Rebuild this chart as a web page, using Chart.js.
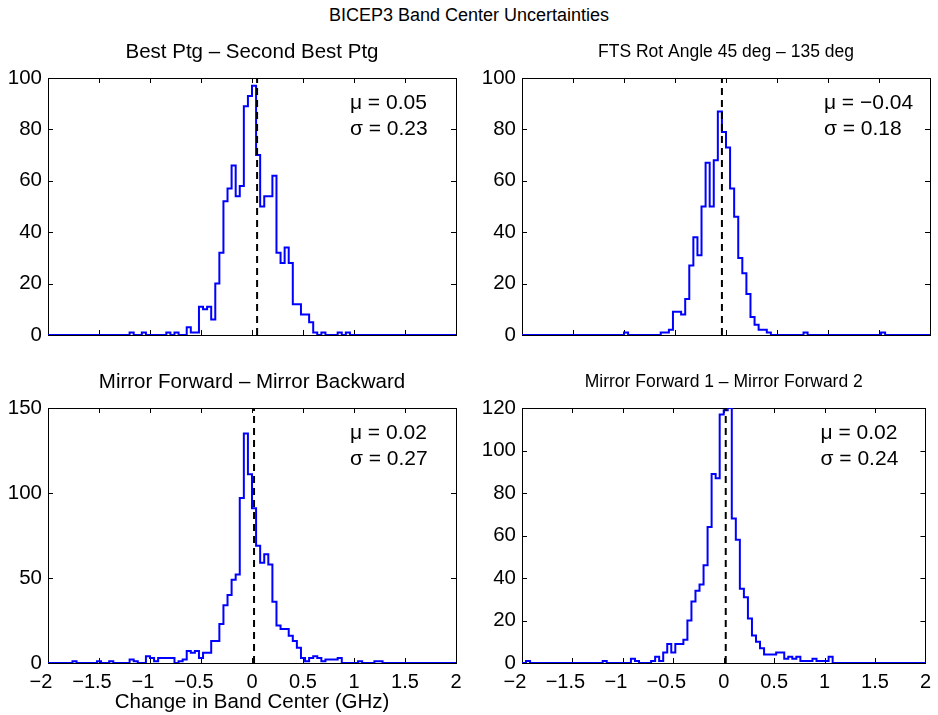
<!DOCTYPE html>
<html lang="en">
<head>
<meta charset="UTF-8">
<title>BICEP3 Band Center Uncertainties</title>
<script src="https://cdn.jsdelivr.net/npm/chart.js"></script>
<style>
  body { margin: 0; background: #fff; }
  #fig { position: relative; width: 938px; height: 715px; font-family: "Liberation Sans", Arial, sans-serif; }
  #suptitle { position: absolute; left: 0; top: 4px; width: 938px; text-align: center; font-size: 18px; line-height: 22px; color: #000; }
  canvas { position: absolute; }
</style>
</head>
<body>
<div id="fig">
  <div id="suptitle">BICEP3 Band Center Uncertainties</div>
  <canvas id="c1" width="469" height="327" style="left:0;top:30px"></canvas>
  <canvas id="c2" width="468" height="327" style="left:470px;top:30px"></canvas>
  <canvas id="c3" width="469" height="355" style="left:0;top:360px"></canvas>
  <canvas id="c4" width="468" height="355" style="left:470px;top:360px"></canvas>
</div>
<script>
// histogram: 100 bins of 0.04 GHz between -2 and 2
const binStart = -2;
const binWidth = 0.04;
const xTicks = [-2, -1.5, -1, -0.5, 0, 0.5, 1, 1.5, 2];

const countsBestPtg = [
  0,0,0,0,0,0,0,0,0,0,
  0,0,0,0,0,0,0,0,0,0,
  0,1,0,0,1,0,0,0,0,0,
  1,0,1,0,0,3,1,1,11,10,
  11,6,20,32,52,57,66,54,58,89,
  93,97,70,50,54,54,62,32,28,34,
  28,12,12,8,8,5,1,0,1,0,
  0,0,1,0,1,0,0,0,0,0,
  0,0,0,0,0,0,0,0,0,0,
  0,0,0,0,0,0,0,0,0,0
];
const countsFtsRot = [
  0,0,0,0,0,0,0,0,0,0,
  0,0,0,0,0,0,0,0,0,0,
  0,0,0,0,0,0,1,0,0,0,
  0,0,0,0,0,1,1,2,9,9,
  8,14,27,38,31,50,67,50,68,87,
  79,73,57,46,30,24,16,7,4,2,
  2,1,0,0,0,0,0,0,0,0,
  1,0,0,0,0,0,0,0,0,0,
  0,0,0,0,0,0,0,0,0,1,
  0,0,0,0,0,0,0,0,0,0
];
const countsMirrorFB = [
  0,0,0,0,0,0,0,1,0,0,
  0,0,0,1,0,0,1,0,0,0,
  0,2,1,0,0,4,3,1,3,3,
  3,3,0,1,2,7,6,7,3,6,
  6,13,13,23,34,40,49,52,97,135,
  111,91,69,59,64,58,36,22,20,20,
  16,13,9,3,1,3,4,3,1,2,
  2,2,3,0,0,0,0,1,0,0,
  0,1,1,0,0,0,0,0,0,0,
  0,0,0,0,0,0,0,0,0,0
];
const countsMirrorF12 = [
  0,0,1,0,0,0,0,0,0,0,
  0,0,0,0,0,0,0,0,0,0,
  0,1,0,0,0,0,0,0,2,1,
  0,0,0,1,3,1,5,9,5,9,
  9,11,20,29,34,37,46,64,89,87,
  117,119,120,68,58,35,31,21,13,10,
  7,4,4,4,5,5,2,3,2,3,
  1,1,1,2,1,1,1,3,0,0,
  0,0,0,0,0,0,0,0,0,0,
  0,0,0,0,0,0,0,0,0,0
];

const panelTitles = [
  'Best Ptg \u2013 Second Best Ptg',
  'FTS Rot Angle 45 deg \u2013 135 deg',
  'Mirror Forward \u2013 Mirror Backward',
  'Mirror Forward 1 \u2013 Mirror Forward 2'
];
const means = [0.05, -0.04, 0.02, 0.02];
const sigmas = [0.23, 0.18, 0.27, 0.24];
const yTicksTop = [0, 20, 40, 60, 80, 100];
const yTicksBL = [0, 50, 100, 150];
const yTicksBR = [0, 20, 40, 60, 80, 100, 120];
const xLabel = 'Change in Band Center (GHz)';

const FONT = '"Liberation Sans", Arial, Helvetica, sans-serif';
const fmt = v => (v < 0 ? '\u2212' + Math.abs(v) : String(v));
// negative x labels sit a little left of their tick, as in the original
const fmtX = v => (v < 0 ? fmt(v) + '\u2002\u2009' : fmt(v));

// box round the axes with inward ticks on all four sides, plus the mu / sigma text
const axesBox = {
  id: 'axesBox',
  beforeDatasetsDraw(chart) {
    const { ctx, chartArea: a, scales: { x, y } } = chart;
    const len = 5;
    ctx.save();
    ctx.strokeStyle = '#000';
    ctx.lineWidth = 1;
    ctx.strokeRect(Math.round(a.left) + 0.5, Math.round(a.top) + 0.5,
      Math.round(a.right - a.left), Math.round(a.bottom - a.top));
    ctx.beginPath();
    x.ticks.forEach(t => {
      const px = Math.round(x.getPixelForValue(t.value)) + 0.5;
      ctx.moveTo(px, a.bottom); ctx.lineTo(px, a.bottom - len);
      ctx.moveTo(px, a.top); ctx.lineTo(px, a.top + len);
    });
    y.ticks.forEach(t => {
      const py = Math.round(y.getPixelForValue(t.value)) + 0.5;
      ctx.moveTo(a.left, py); ctx.lineTo(a.left + len, py);
      ctx.moveTo(a.right, py); ctx.lineTo(a.right - len, py);
    });
    ctx.stroke();
    ctx.restore();
  },
  afterDraw(chart, args, opts) {
    const { ctx, scales: { x, y } } = chart;
    const top = y.max;
    ctx.save();
    ctx.fillStyle = '#000';
    ctx.font = '21px ' + FONT;
    ctx.textAlign = 'left';
    ctx.textBaseline = 'middle';
    ctx.fillText('\u03bc = ' + fmt(opts.mu), x.getPixelForValue(0.96), y.getPixelForValue(top * 0.9));
    ctx.fillText('\u03c3 = ' + fmt(opts.sigma), x.getPixelForValue(0.96), y.getPixelForValue(top * 0.8));
    ctx.restore();
  }
};

function histPoints(counts) {
  const pts = counts.map((c, i) => ({ x: binStart + i * binWidth, y: c }));
  pts.push({ x: binStart + counts.length * binWidth, y: counts[counts.length - 1] });
  return pts;
}

function makePanel(id, idx, counts, yTicks, opt) {
  const yMax = yTicks[yTicks.length - 1];
  new Chart(document.getElementById(id), {
    type: 'line',
    data: {
      datasets: [
        {
          data: [{ x: means[idx], y: 0 }, { x: means[idx], y: yMax }],
          borderColor: '#000',
          borderWidth: 2,
          borderDash: [7, 5],
          pointRadius: 0
        },
        {
          data: histPoints(counts),
          stepped: 'after',
          borderColor: '#0000ff',
          borderWidth: 2,
          pointRadius: 0
        }
      ]
    },
    options: {
      responsive: false,
      animation: false,
      layout: { padding: { left: 0, right: opt.padRight, top: 0, bottom: 0 } },
      plugins: {
        legend: { display: false },
        tooltip: { enabled: false },
        title: {
          display: true,
          fullSize: false,
          text: panelTitles[idx],
          color: '#000',
          font: { family: FONT, size: opt.titleSize, weight: 'normal' },
          padding: opt.titlePad
        },
        axesBox: { mu: means[idx], sigma: sigmas[idx] }
      },
      scales: {
        x: {
          type: 'linear',
          min: -2,
          max: 2,
          afterBuildTicks: s => { s.ticks = xTicks.map(v => ({ value: v })); },
          afterFit: s => { s.height = opt.xAxisH; },
          grid: { display: false, drawTicks: false },
          border: { display: false },
          ticks: {
            display: opt.showX,
            autoSkip: false,
            color: '#000',
            padding: 7,
            maxRotation: 0,
            font: { family: FONT, size: 20 },
            callback: v => fmtX(v)
          },
          title: {
            display: opt.xTitle,
            text: xLabel,
            color: '#000',
            font: { family: FONT, size: 20.5 },
            padding: { top: 0, bottom: 0 }
          }
        },
        y: {
          min: 0,
          max: yMax,
          afterBuildTicks: s => { s.ticks = yTicks.map(v => ({ value: v })); },
          afterFit: s => { s.width = opt.yAxisW; },
          grid: { display: false, drawTicks: false },
          border: { display: false },
          ticks: {
            autoSkip: false,
            color: '#000',
            padding: 6,
            font: { family: FONT, size: 20.5 },
            callback: v => fmt(v)
          }
        }
      }
    },
    plugins: [axesBox]
  });
}

const padLeftTitle = { top: 9.7, bottom: 13.7 };
const padRightTitle = { top: 11.5, bottom: 15.5 };

makePanel('c1', 0, countsBestPtg, yTicksTop, { padRight: 13, yAxisW: 48, xAxisH: 22, showX: false, xTitle: false, titleSize: 20.5, titlePad: padLeftTitle });
makePanel('c2', 1, countsFtsRot, yTicksTop, { padRight: 8, yAxisW: 52, xAxisH: 22, showX: false, xTitle: false, titleSize: 17.5, titlePad: padRightTitle });
makePanel('c3', 2, countsMirrorFB, yTicksBL, { padRight: 13, yAxisW: 48, xAxisH: 52, showX: true, xTitle: true, titleSize: 20.5, titlePad: padLeftTitle });
makePanel('c4', 3, countsMirrorF12, yTicksBR, { padRight: 8, yAxisW: 52, xAxisH: 52, showX: true, xTitle: false, titleSize: 17.5, titlePad: padRightTitle });
</script>
</body>
</html>
